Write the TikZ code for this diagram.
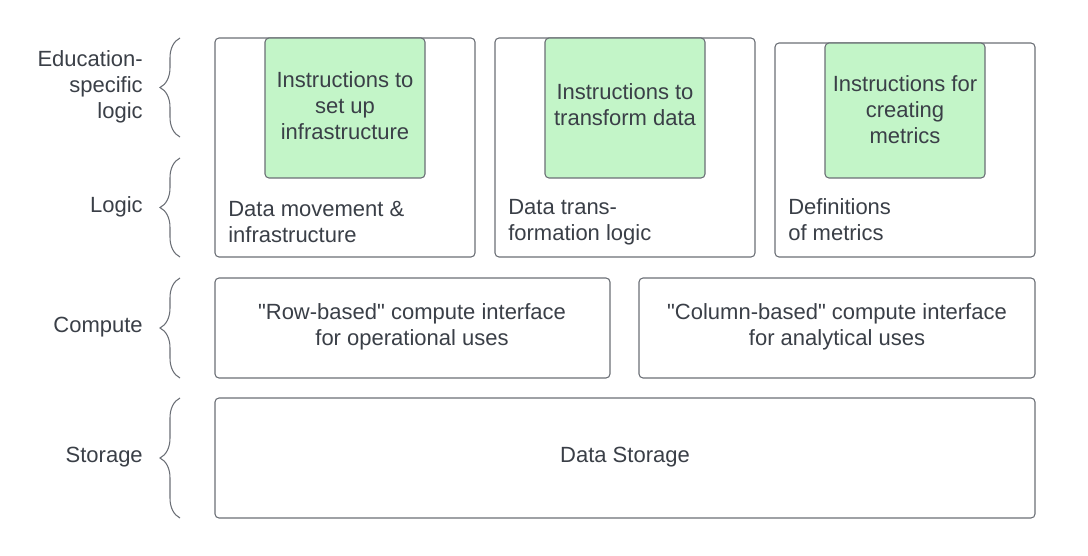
\documentclass[tikz,border=0pt]{standalone}
\usepackage{fontspec}
\setmainfont{Liberation Sans}
\usepackage{xcolor}
\definecolor{edge}{HTML}{6B6F76}
\definecolor{ink}{HTML}{3A3F47}
\definecolor{mint}{HTML}{C3F5C8}
\usepackage{tikz}
\usetikzlibrary{decorations.pathreplacing, positioning}

\begin{document}
\begin{tikzpicture}[
  x=0.75pt, y=-0.75pt,
  box/.style={draw=edge, fill=#1, rounded corners=3pt, line width=0.8pt, inner sep=0pt},
  box/.default=white,
  txt/.style={inner sep=0pt, text=ink, font=\fontsize{16.5}{19.5}\selectfont},
  layer/.style={draw=edge, line width=0.8pt, decorate, decoration={brace, amplitude=15pt}}
]
  \useasboundingbox (0,0) rectangle (1088,556);

  % Logic row
  \node[box, minimum width=195pt, minimum height=164.25pt] (move) at (345,147.5) {};
  \node[box, minimum width=195pt, minimum height=164.25pt] (trans) at (625,147.5) {};
  \node[box, minimum width=195pt, minimum height=160.5pt] (defs) at (905,150) {};

  \node[txt, anchor=west, align=left] (movetxt) at (228,222) {Data movement \&\\infrastructure};
  \node[txt, anchor=west, align=left] (transtxt) at (508,222) {Data trans-\\formation logic};
  \node[txt, anchor=west, align=left] (defstxt) at (788,220) {Definitions\\of metrics};

  % Education-specific instructions
  \node[box=mint, minimum width=120pt, minimum height=105pt] (setup) at (345,108) {};
  \node[box=mint, minimum width=120pt, minimum height=105pt] (transform) at (625,108) {};
  \node[box=mint, minimum width=120pt, minimum height=101.25pt] (create) at (905,110.5) {};

  \node[txt, align=center] (setuptxt) at (345,106) {Instructions to\\set up\\infrastructure};
  \node[txt, align=center] (transformtxt) at (625,105) {Instructions to\\transform data};
  \node[txt, align=center] (createtxt) at (905,110) {Instructions for\\creating\\metrics};

  % Compute row
  \node[box, minimum width=296.25pt, minimum height=75pt] (row) at (412.5,328) {};
  \node[box, minimum width=297pt, minimum height=75pt] (col) at (837,328) {};
  \node[txt, align=center] (rowtxt) at (412,327) {\textquotedbl Row-based\textquotedbl{} compute interface\\for operational uses};
  \node[txt, align=center] (coltxt) at (837,327) {\textquotedbl Column-based\textquotedbl{} compute interface\\for analytical uses};

  % Storage row
  \node[box, minimum width=615pt, minimum height=90pt] (store) at (625,458) {};
  \node[txt] (storetxt) at (625,457) {Data Storage};

  % Layer braces and labels
  \coordinate (edutop) at (180,38);
  \coordinate (edubot) at (180,137);
  \coordinate (logtop) at (180,158);
  \coordinate (logbot) at (180,257);
  \coordinate (comtop) at (180,278);
  \coordinate (combot) at (180,378);
  \coordinate (stotop) at (180,398);
  \coordinate (stobot) at (180,518);
  \draw[layer] (edubot) -- (edutop);
  \draw[layer] (logbot) -- (logtop);
  \draw[layer] (combot) -- (comtop);
  \draw[layer] (stobot) -- (stotop);

  \node[txt, anchor=east, align=right] (edu) at (143,87) {Education-\\specific\\logic};
  \node[txt, anchor=east] (logic) at (143,207) {Logic};
  \node[txt, anchor=east] (compute) at (143,327) {Compute};
  \node[txt, anchor=east] (storage) at (143,457) {Storage};
\end{tikzpicture}
\end{document}
